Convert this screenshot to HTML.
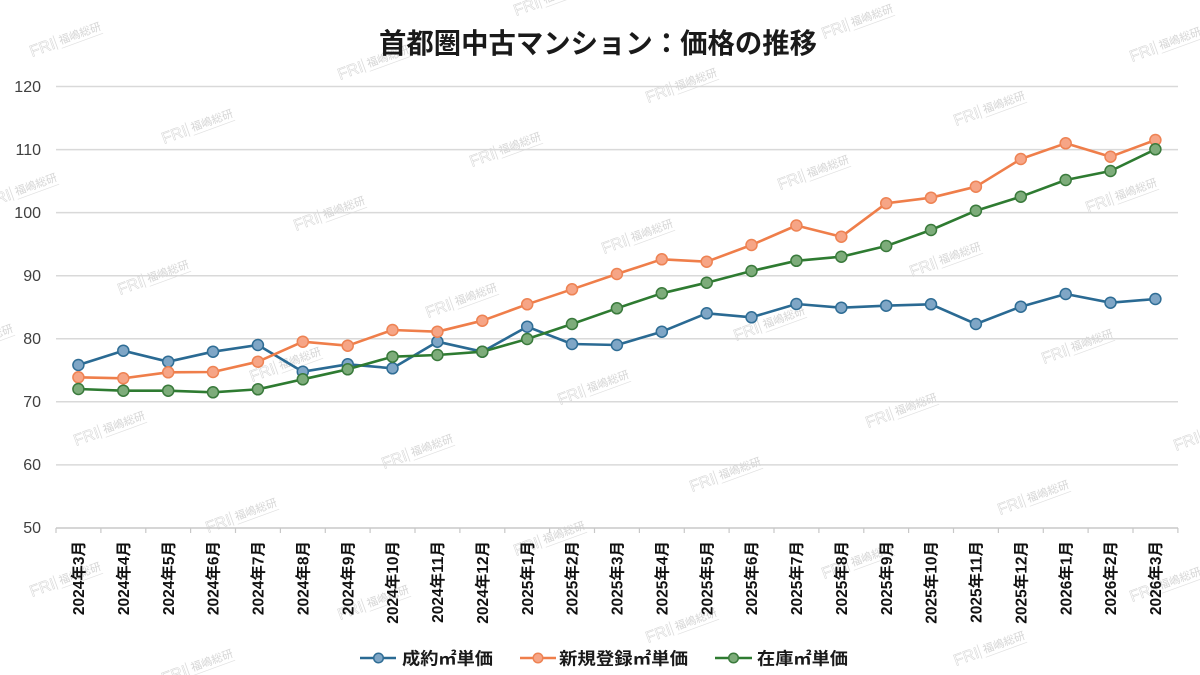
<!DOCTYPE html>
<html><head><meta charset="utf-8"><style>
html,body{margin:0;padding:0;background:#fff;}
svg{display:block;}
text{font-family:"Liberation Sans","Noto Sans CJK JP",sans-serif;}
</style></head><body>
<svg width="1200" height="675" viewBox="0 0 1200 675" xmlns="http://www.w3.org/2000/svg">
<rect width="1200" height="675" fill="#fff"/>
<!-- watermarks -->
<defs>
<g id="wm">
<text x="0" y="0" font-size="16" fill="none" stroke="#d8d8d8" stroke-width="0.6" style="font-family:'Liberation Sans',sans-serif">FRI</text>
<line x1="27" y1="2" x2="27" y2="-13" stroke="#dadada" stroke-width="0.8"/>
<text x="31" y="-2" font-size="11" fill="#d6d6d6" style="font-family:'Liberation Sans','Noto Sans CJK JP',sans-serif">福嶋総研</text>
<line x1="31" y1="2" x2="75" y2="2" stroke="#e0e0e0" stroke-width="0.7"/>
</g>
</defs>
<g>
<use href="#wm" transform="translate(208,-7) rotate(-20)"/>
<use href="#wm" transform="translate(516,16) rotate(-20)"/>
<use href="#wm" transform="translate(824,39) rotate(-20)"/>
<use href="#wm" transform="translate(1132,62) rotate(-20)"/>
<use href="#wm" transform="translate(32,57) rotate(-20)"/>
<use href="#wm" transform="translate(340,80) rotate(-20)"/>
<use href="#wm" transform="translate(648,103) rotate(-20)"/>
<use href="#wm" transform="translate(956,126) rotate(-20)"/>
<use href="#wm" transform="translate(164,144) rotate(-20)"/>
<use href="#wm" transform="translate(472,167) rotate(-20)"/>
<use href="#wm" transform="translate(780,190) rotate(-20)"/>
<use href="#wm" transform="translate(1088,213) rotate(-20)"/>
<use href="#wm" transform="translate(-12,208) rotate(-20)"/>
<use href="#wm" transform="translate(296,231) rotate(-20)"/>
<use href="#wm" transform="translate(604,254) rotate(-20)"/>
<use href="#wm" transform="translate(912,277) rotate(-20)"/>
<use href="#wm" transform="translate(1220,300) rotate(-20)"/>
<use href="#wm" transform="translate(120,295) rotate(-20)"/>
<use href="#wm" transform="translate(428,318) rotate(-20)"/>
<use href="#wm" transform="translate(736,341) rotate(-20)"/>
<use href="#wm" transform="translate(1044,364) rotate(-20)"/>
<use href="#wm" transform="translate(-56,359) rotate(-20)"/>
<use href="#wm" transform="translate(252,382) rotate(-20)"/>
<use href="#wm" transform="translate(560,405) rotate(-20)"/>
<use href="#wm" transform="translate(868,428) rotate(-20)"/>
<use href="#wm" transform="translate(1176,451) rotate(-20)"/>
<use href="#wm" transform="translate(76,446) rotate(-20)"/>
<use href="#wm" transform="translate(384,469) rotate(-20)"/>
<use href="#wm" transform="translate(692,492) rotate(-20)"/>
<use href="#wm" transform="translate(1000,515) rotate(-20)"/>
<use href="#wm" transform="translate(208,533) rotate(-20)"/>
<use href="#wm" transform="translate(516,556) rotate(-20)"/>
<use href="#wm" transform="translate(824,579) rotate(-20)"/>
<use href="#wm" transform="translate(1132,602) rotate(-20)"/>
<use href="#wm" transform="translate(32,597) rotate(-20)"/>
<use href="#wm" transform="translate(340,620) rotate(-20)"/>
<use href="#wm" transform="translate(648,643) rotate(-20)"/>
<use href="#wm" transform="translate(956,666) rotate(-20)"/>
<use href="#wm" transform="translate(164,684) rotate(-20)"/>
</g>

<!-- title -->
<text x="598" y="53" text-anchor="middle" font-size="28" font-weight="bold" fill="#1a1a1a" textLength="438" lengthAdjust="spacingAndGlyphs">首都圏中古マンション：価格の推移</text>

<!-- gridlines -->
<g stroke="#d9d9d9" stroke-width="1.5">
<line x1="56" y1="86.5" x2="1178" y2="86.5"/>
<line x1="56" y1="149.6" x2="1178" y2="149.6"/>
<line x1="56" y1="212.6" x2="1178" y2="212.6"/>
<line x1="56" y1="275.7" x2="1178" y2="275.7"/>
<line x1="56" y1="338.8" x2="1178" y2="338.8"/>
<line x1="56" y1="401.8" x2="1178" y2="401.8"/>
<line x1="56" y1="464.9" x2="1178" y2="464.9"/>
</g>
<line x1="56" y1="528" x2="1178" y2="528" stroke="#c8c8c8" stroke-width="1.5"/>
<g stroke="#c8c8c8" stroke-width="1.2">
<line x1="56" y1="528" x2="56" y2="533"/><line x1="100.9" y1="528" x2="100.9" y2="533"/><line x1="145.8" y1="528" x2="145.8" y2="533"/><line x1="190.6" y1="528" x2="190.6" y2="533"/><line x1="235.5" y1="528" x2="235.5" y2="533"/><line x1="280.4" y1="528" x2="280.4" y2="533"/><line x1="325.3" y1="528" x2="325.3" y2="533"/><line x1="370.1" y1="528" x2="370.1" y2="533"/><line x1="415" y1="528" x2="415" y2="533"/><line x1="459.9" y1="528" x2="459.9" y2="533"/><line x1="504.8" y1="528" x2="504.8" y2="533"/><line x1="549.6" y1="528" x2="549.6" y2="533"/><line x1="594.5" y1="528" x2="594.5" y2="533"/><line x1="639.4" y1="528" x2="639.4" y2="533"/><line x1="684.3" y1="528" x2="684.3" y2="533"/><line x1="729.1" y1="528" x2="729.1" y2="533"/><line x1="774" y1="528" x2="774" y2="533"/><line x1="818.9" y1="528" x2="818.9" y2="533"/><line x1="863.8" y1="528" x2="863.8" y2="533"/><line x1="908.6" y1="528" x2="908.6" y2="533"/><line x1="953.5" y1="528" x2="953.5" y2="533"/><line x1="998.4" y1="528" x2="998.4" y2="533"/><line x1="1043.3" y1="528" x2="1043.3" y2="533"/><line x1="1088.1" y1="528" x2="1088.1" y2="533"/><line x1="1133" y1="528" x2="1133" y2="533"/><line x1="1177.9" y1="528" x2="1177.9" y2="533"/>
</g>

<!-- y labels -->
<g font-size="16" fill="#404040" text-anchor="end">
<text x="41" y="92">120</text>
<text x="41" y="155">110</text>
<text x="41" y="218">100</text>
<text x="41" y="281">90</text>
<text x="41" y="344">80</text>
<text x="41" y="407">70</text>
<text x="41" y="470">60</text>
<text x="41" y="533">50</text>
</g>

<!-- x labels -->
<g font-size="15.5" font-weight="bold" fill="#111" text-anchor="end">
<text transform="translate(84,541) rotate(-90)">2024年3月</text>
<text transform="translate(128.9,541) rotate(-90)">2024年4月</text>
<text transform="translate(173.8,541) rotate(-90)">2024年5月</text>
<text transform="translate(218.6,541) rotate(-90)">2024年6月</text>
<text transform="translate(263.5,541) rotate(-90)">2024年7月</text>
<text transform="translate(308.4,541) rotate(-90)">2024年8月</text>
<text transform="translate(353.3,541) rotate(-90)">2024年9月</text>
<text transform="translate(398.1,541) rotate(-90)">2024年10月</text>
<text transform="translate(443,541) rotate(-90)">2024年11月</text>
<text transform="translate(487.9,541) rotate(-90)">2024年12月</text>
<text transform="translate(532.8,541) rotate(-90)">2025年1月</text>
<text transform="translate(577.6,541) rotate(-90)">2025年2月</text>
<text transform="translate(622.5,541) rotate(-90)">2025年3月</text>
<text transform="translate(667.4,541) rotate(-90)">2025年4月</text>
<text transform="translate(712.3,541) rotate(-90)">2025年5月</text>
<text transform="translate(757.1,541) rotate(-90)">2025年6月</text>
<text transform="translate(802,541) rotate(-90)">2025年7月</text>
<text transform="translate(846.9,541) rotate(-90)">2025年8月</text>
<text transform="translate(891.8,541) rotate(-90)">2025年9月</text>
<text transform="translate(936.6,541) rotate(-90)">2025年10月</text>
<text transform="translate(981.5,541) rotate(-90)">2025年11月</text>
<text transform="translate(1026.4,541) rotate(-90)">2025年12月</text>
<text transform="translate(1071.3,541) rotate(-90)">2026年1月</text>
<text transform="translate(1116.1,541) rotate(-90)">2026年2月</text>
<text transform="translate(1161,541) rotate(-90)">2026年3月</text>
</g>

<!-- blue series -->
<polyline fill="none" stroke="#2a6a93" stroke-width="2.6" stroke-linejoin="round" points="78.4,365 123.3,350.7 168.2,361.7 213,351.7 257.9,345 302.8,371.7 347.7,364.3 392.5,368.3 437.4,341.7 482.3,351.7 527.2,326.7 572,344 616.9,345 661.8,331.7 706.7,313.3 751.5,317.3 796.4,304 841.3,307.7 886.2,305.7 931,304.3 975.9,324 1020.8,306.7 1065.7,294 1110.5,302.7 1155.4,299"/>
<g fill="#7fa6c6" stroke="#2f6d95" stroke-width="1.5">
<circle cx="78.4" cy="365" r="5.5"/><circle cx="123.3" cy="350.7" r="5.5"/><circle cx="168.2" cy="361.7" r="5.5"/><circle cx="213" cy="351.7" r="5.5"/><circle cx="257.9" cy="345" r="5.5"/><circle cx="302.8" cy="371.7" r="5.5"/><circle cx="347.7" cy="364.3" r="5.5"/><circle cx="392.5" cy="368.3" r="5.5"/><circle cx="437.4" cy="341.7" r="5.5"/><circle cx="482.3" cy="351.7" r="5.5"/><circle cx="527.2" cy="326.7" r="5.5"/><circle cx="572" cy="344" r="5.5"/><circle cx="616.9" cy="345" r="5.5"/><circle cx="661.8" cy="331.7" r="5.5"/><circle cx="706.7" cy="313.3" r="5.5"/><circle cx="751.5" cy="317.3" r="5.5"/><circle cx="796.4" cy="304" r="5.5"/><circle cx="841.3" cy="307.7" r="5.5"/><circle cx="886.2" cy="305.7" r="5.5"/><circle cx="931" cy="304.3" r="5.5"/><circle cx="975.9" cy="324" r="5.5"/><circle cx="1020.8" cy="306.7" r="5.5"/><circle cx="1065.7" cy="294" r="5.5"/><circle cx="1110.5" cy="302.7" r="5.5"/><circle cx="1155.4" cy="299" r="5.5"/>
</g>

<!-- orange series -->
<polyline fill="none" stroke="#ef7e4a" stroke-width="2.6" stroke-linejoin="round" points="78.4,377.3 123.3,378.3 168.2,372.3 213,372 257.9,361.7 302.8,341.7 347.7,345.7 392.5,330 437.4,331.7 482.3,320.7 527.2,304.3 572,289.3 616.9,274 661.8,259.3 706.7,261.7 751.5,245 796.4,225.5 841.3,236.7 886.2,203.3 931,197.7 975.9,186.7 1020.8,159 1065.7,143.3 1110.5,156.7 1155.4,140"/>
<g fill="#f6a586" stroke="#ee8354" stroke-width="1.5">
<circle cx="78.4" cy="377.3" r="5.5"/><circle cx="123.3" cy="378.3" r="5.5"/><circle cx="168.2" cy="372.3" r="5.5"/><circle cx="213" cy="372" r="5.5"/><circle cx="257.9" cy="361.7" r="5.5"/><circle cx="302.8" cy="341.7" r="5.5"/><circle cx="347.7" cy="345.7" r="5.5"/><circle cx="392.5" cy="330" r="5.5"/><circle cx="437.4" cy="331.7" r="5.5"/><circle cx="482.3" cy="320.7" r="5.5"/><circle cx="527.2" cy="304.3" r="5.5"/><circle cx="572" cy="289.3" r="5.5"/><circle cx="616.9" cy="274" r="5.5"/><circle cx="661.8" cy="259.3" r="5.5"/><circle cx="706.7" cy="261.7" r="5.5"/><circle cx="751.5" cy="245" r="5.5"/><circle cx="796.4" cy="225.5" r="5.5"/><circle cx="841.3" cy="236.7" r="5.5"/><circle cx="886.2" cy="203.3" r="5.5"/><circle cx="931" cy="197.7" r="5.5"/><circle cx="975.9" cy="186.7" r="5.5"/><circle cx="1020.8" cy="159" r="5.5"/><circle cx="1065.7" cy="143.3" r="5.5"/><circle cx="1110.5" cy="156.7" r="5.5"/><circle cx="1155.4" cy="140" r="5.5"/>
</g>

<!-- green series -->
<polyline fill="none" stroke="#2e7b31" stroke-width="2.6" stroke-linejoin="round" points="78.4,389 123.3,390.7 168.2,390.7 213,392.3 257.9,389.3 302.8,379.3 347.7,369.3 392.5,356.7 437.4,355 482.3,351.7 527.2,339 572,324 616.9,308.3 661.8,293.3 706.7,282.7 751.5,271 796.4,260.8 841.3,256.7 886.2,246 931,230 975.9,210.7 1020.8,196.7 1065.7,180 1110.5,171 1155.4,149.3"/>
<g fill="#7dac7a" stroke="#3a7a3c" stroke-width="1.5">
<circle cx="78.4" cy="389" r="5.5"/><circle cx="123.3" cy="390.7" r="5.5"/><circle cx="168.2" cy="390.7" r="5.5"/><circle cx="213" cy="392.3" r="5.5"/><circle cx="257.9" cy="389.3" r="5.5"/><circle cx="302.8" cy="379.3" r="5.5"/><circle cx="347.7" cy="369.3" r="5.5"/><circle cx="392.5" cy="356.7" r="5.5"/><circle cx="437.4" cy="355" r="5.5"/><circle cx="482.3" cy="351.7" r="5.5"/><circle cx="527.2" cy="339" r="5.5"/><circle cx="572" cy="324" r="5.5"/><circle cx="616.9" cy="308.3" r="5.5"/><circle cx="661.8" cy="293.3" r="5.5"/><circle cx="706.7" cy="282.7" r="5.5"/><circle cx="751.5" cy="271" r="5.5"/><circle cx="796.4" cy="260.8" r="5.5"/><circle cx="841.3" cy="256.7" r="5.5"/><circle cx="886.2" cy="246" r="5.5"/><circle cx="931" cy="230" r="5.5"/><circle cx="975.9" cy="210.7" r="5.5"/><circle cx="1020.8" cy="196.7" r="5.5"/><circle cx="1065.7" cy="180" r="5.5"/><circle cx="1110.5" cy="171" r="5.5"/><circle cx="1155.4" cy="149.3" r="5.5"/>
</g>

<!-- legend -->
<line x1="360" y1="658" x2="396" y2="658" stroke="#2a6a93" stroke-width="2.6"/>
<circle cx="378.5" cy="658" r="4.8" fill="#7fa6c6" stroke="#2f6d95" stroke-width="1.5"/>
<text x="402" y="664.5" font-size="17" font-weight="bold" fill="#1a1a1a" textLength="91" lengthAdjust="spacingAndGlyphs">成約㎡単価</text>

<line x1="520" y1="658" x2="556" y2="658" stroke="#ef7e4a" stroke-width="2.6"/>
<circle cx="538" cy="658" r="4.8" fill="#f6a586" stroke="#ee8354" stroke-width="1.5"/>
<text x="559" y="664.5" font-size="17" font-weight="bold" fill="#1a1a1a" textLength="129" lengthAdjust="spacingAndGlyphs">新規登録㎡単価</text>

<line x1="715" y1="658" x2="752" y2="658" stroke="#2e7b31" stroke-width="2.6"/>
<circle cx="733.5" cy="658" r="4.8" fill="#7dac7a" stroke="#3a7a3c" stroke-width="1.5"/>
<text x="757" y="664.5" font-size="17" font-weight="bold" fill="#1a1a1a" textLength="91" lengthAdjust="spacingAndGlyphs">在庫㎡単価</text>
</svg>
</body></html>
